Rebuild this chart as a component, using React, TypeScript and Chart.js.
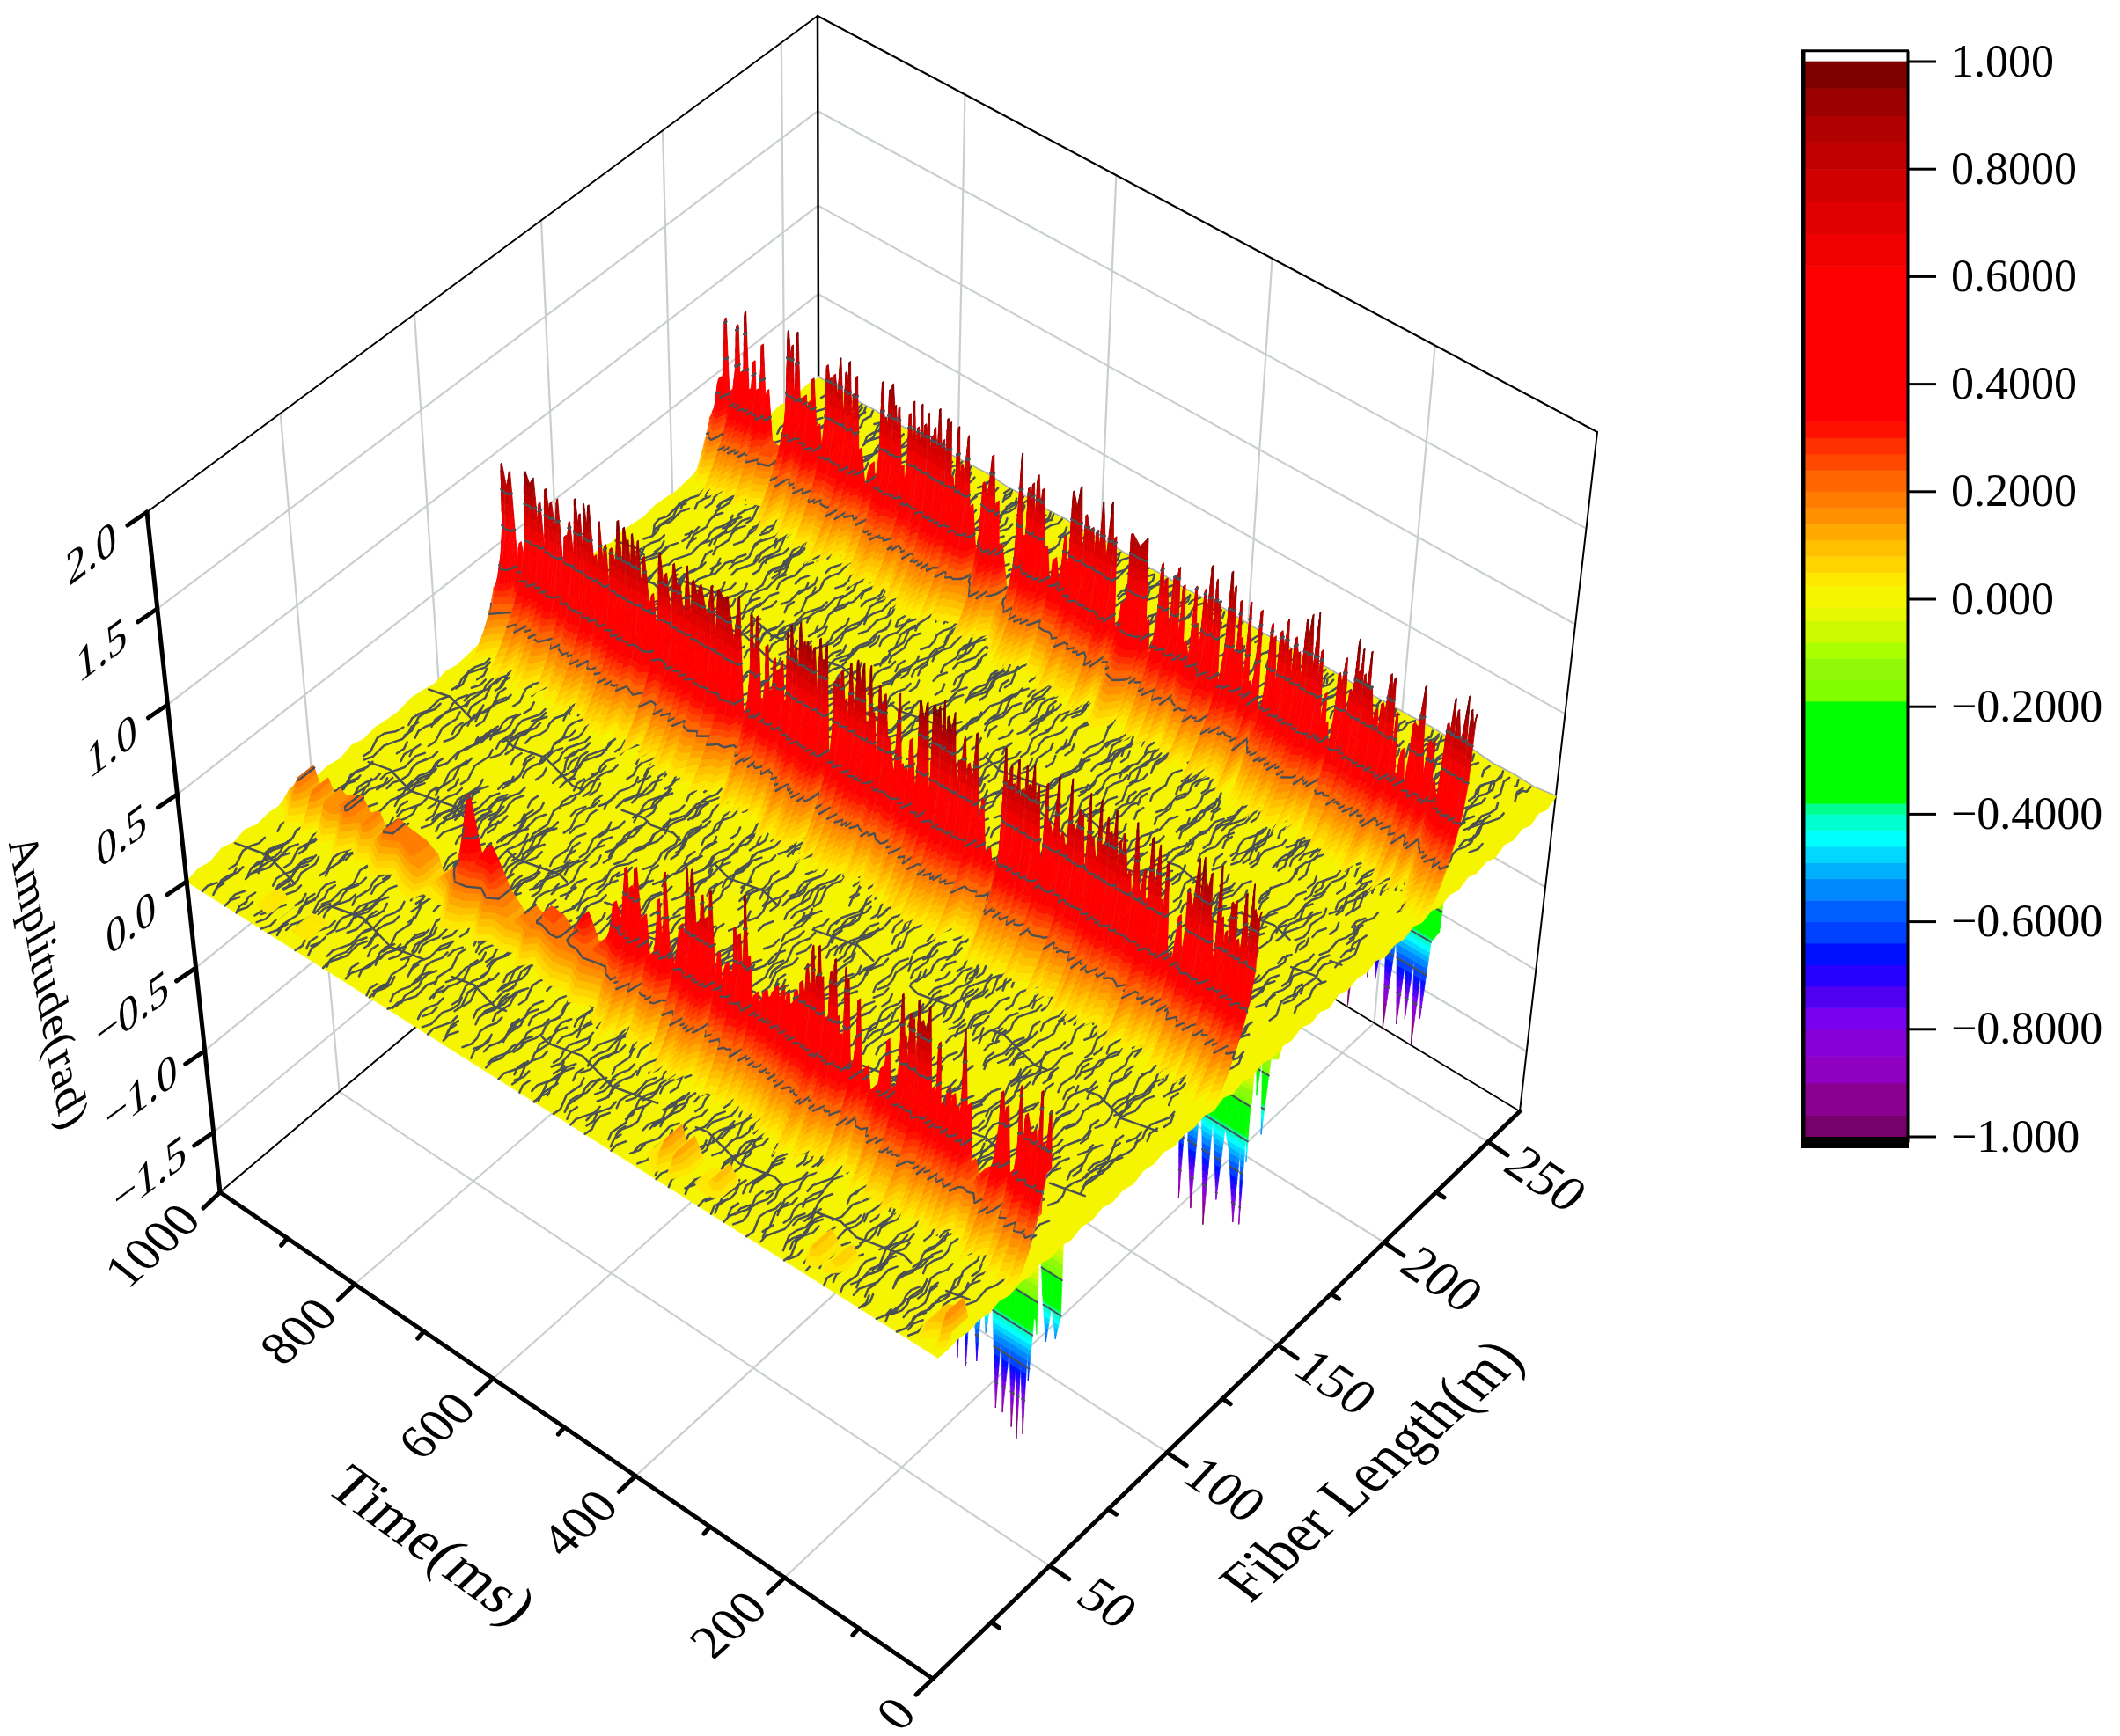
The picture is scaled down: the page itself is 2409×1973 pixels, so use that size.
import React, { useEffect, useRef } from "react";
import { Chart, DatasetController, registerables } from "chart.js";

// ---------- axes ----------
const timeTicks = [1000, 800, 600, 400, 200, 0];
const timeMinor = [900, 700, 500, 300, 100];
const fiberTicks = [50, 100, 150, 200, 250];
const fiberMinor = [25, 75, 125, 175, 225];
const ampTicks = [2.0, 1.5, 1.0, 0.5, 0.0, -0.5, -1.0, -1.5];
const ampLabels = ["2.0", "1.5", "1.0", "0.5", "0.0", "\u22120.5", "\u22121.0", "\u22121.5"];
const barTicks = [1, 0.8, 0.6, 0.4, 0.2, 0, -0.2, -0.4, -0.6, -0.8, -1];
const barLabels = ["1.000", "0.8000", "0.6000", "0.4000", "0.2000", "0.000", "\u22120.2000", "\u22120.4000", "\u22120.6000", "\u22120.8000", "\u22121.000"];

// ---------- colour map ----------
const bandLo = [-3, -0.96, -0.9, -0.85, -0.8, -0.76, -0.72, -0.68, -0.64, -0.6, -0.56, -0.52, -0.49, -0.46, -0.43, -0.4, -0.38, -0.19, -0.15, -0.11, -0.08, -0.04, -0.015, 0.025, 0.05, 0.08, 0.11, 0.14, 0.17, 0.2, 0.24, 0.27, 0.3, 0.33, 0.62, 0.68, 0.74, 0.8, 0.85, 0.9, 0.95];
const bandColor = ["#78006c", "#8a0090", "#9000c0", "#8800d8", "#7a00f0", "#5000f0", "#2800ff", "#0010ff", "#0040ff", "#0060ff", "#0088ff", "#00b0ff", "#00d8ff", "#00ffff", "#00ffd0", "#00ff90", "#00ff00", "#80ff00", "#90f808", "#aaff00", "#ccf800", "#e8f800", "#f5f500", "#ffe800", "#ffd400", "#ffc000", "#ffa800", "#ff9000", "#ff7c00", "#ff6600", "#ff4800", "#ff3000", "#ff1000", "#ff0000", "#f00000", "#e00000", "#d00000", "#c00000", "#b00000", "#9c0000", "#800000"];
const PLATEAU = "#f5f500";
const contourLevels = [-0.8, -0.6, -0.4, -0.2, 0.2, 0.4, 0.6, 0.8];

// ---------- ridges: [time ms, amplitude rad] ----------
const ridgeBackFiber = 222;
const ridgeMidFiber = 129;
const ridgeFrontFiber = 45;
const ridgeLowFiber = 12;
const ridgeBack = [[1000,.30],[998,.47],[990,.82],[981,.44],[973,.82],[968,.57],[962,.92],[956,.50],[950,.67],[946,.52],[938,.79],[931,.55],[927,.27],[916,.25],[910,.05],[902,.95],[896,.88],[893,.64],[889,.97],[884,.61],[878,.64],[872,.62],[867,.76],[859,.52],[847,.88],[842,.82],[837,.85],[829,.96],[821,.90],[816,.97],[810,.80],[806,.91],[800,.52],[790,.35],[783,.48],[771,.96],[766,.77],[761,.94],[757,.98],[753,.87],[748,.87],[742,.56],[739,.50],[733,.87],[729,.69],[728,.95],[722,.82],[717,.96],[712,.86],[708,.93],[702,.82],[699,.87],[693,.99],[687,.83],[682,.96],[678,.95],[675,.65],[667,.95],[662,.75],[654,.93],[647,.56],[632,.72],[620,.90],[612,.66],[606,.43],[597,.15],[591,.18],[582,1.0],[577,.55],[572,.83],[566,.87],[560,.93],[553,.87],[546,.56],[534,.53],[522,.68],[514,.95],[504,1.0],[496,.86],[487,.81],[481,.81],[475,.98],[463,1.01],[457,.83],[451,.35],[442,.51],[436,.90],[416,.92],[414,.47],[410,.48],[406,.31],[395,.83],[389,.76],[379,.80],[374,.86],[371,.53],[367,.78],[362,.48],[352,.81],[349,.61],[341,.82],[334,.97],[332,.77],[327,.91],[322,.80],[318,.37],[309,1.0],[307,.83],[304,.93],[301,.57],[296,.87],[293,.67],[284,.89],[280,.46],[277,.20],[270,.88],[267,.33],[256,.84],[252,.78],[244,.83],[242,.78],[237,.91],[232,.76],[226,.84],[221,.77],[214,.97],[208,1.01],[200,1.04],[198,.76],[193,.85],[188,.43],[185,.63],[181,.48],[170,.78],[163,.88],[155,.72],[149,1.02],[146,.85],[143,.98],[139,.85],[133,.99],[130,.80],[121,.70],[115,.75],[107,.93],[105,.83],[102,.92],[96,.74],[91,.42],[85,.57],[74,.74],[64,.97],[62,.66],[53,.69],[48,.70],[44,.49],[33,.84],[27,.99],[22,.94],[11,1.04],[6,.98],[0,.97]];
const ridgeMid = [[1000,.29],[996,.94],[985,.92],[974,.55],[967,.25],[963,.97],[952,.96],[944,.84],[935,.94],[928,.88],[919,.92],[909,.74],[903,.83],[894,.98],[888,.91],[882,.98],[875,.99],[867,.73],[861,.93],[853,.82],[845,.82],[834,1.0],[826,.98],[821,.92],[815,.97],[807,.95],[799,.88],[788,.70],[777,.95],[769,.86],[758,.94],[751,.84],[740,.97],[732,.91],[722,.91],[707,.94],[698,.94],[686,.93],[670,.97],[664,.35],[658,.18],[653,.91],[650,.73],[645,.92],[641,.47],[635,.47],[632,.79],[628,.55],[622,.74],[617,.69],[612,.75],[608,.54],[604,.93],[599,.98],[593,.87],[587,1.02],[582,.93],[578,.94],[574,.93],[569,.93],[561,1.0],[557,.89],[553,.98],[549,.36],[546,.30],[542,.81],[538,.84],[532,.89],[527,.75],[524,.29],[521,.96],[512,1.0],[504,1.0],[500,.69],[495,1.01],[491,.76],[483,.93],[479,.84],[476,.90],[471,.67],[457,.95],[453,.57],[448,.56],[441,.74],[430,.98],[421,.99],[419,.36],[412,1.0],[405,1.01],[399,1.05],[394,.98],[386,1.02],[383,.75],[378,.78],[373,.92],[367,.79],[358,.98],[349,.64],[345,.26],[339,.39],[336,.25],[333,.34],[329,.17],[322,.99],[317,.83],[314,.91],[311,.82],[305,.97],[300,.82],[295,.96],[291,.87],[286,.99],[280,.89],[278,.54],[269,.93],[266,.73],[255,1.01],[249,.71],[239,1.03],[236,.79],[228,.89],[225,.87],[216,1.01],[211,.78],[202,1.01],[198,.78],[193,.94],[189,.87],[183,1.0],[177,.85],[172,.90],[164,.72],[157,1.0],[145,.77],[142,.62],[137,.97],[128,.95],[122,.67],[117,.88],[109,.41],[99,.64],[93,.48],[90,.81],[79,1.0],[73,1.02],[71,.91],[63,.96],[60,.71],[51,1.03],[47,.76],[41,.70],[36,.87],[31,.89],[27,.69],[19,.96],[11,1.03],[8,.90],[0,.91]];
const ridgeFront = [[1000,.02],[992,.10],[976,.21],[965,.07],[956,.19],[945,.09],[939,.17],[930,.15],[921,.18],[908,.21],[897,.14],[884,.18],[875,.10],[856,.21],[840,.19],[818,.18],[802,.14],[796,.05],[771,.17],[752,.61],[739,.29],[726,.40],[713,.30],[702,.20],[683,.12],[668,.20],[655,.17],[645,.25],[628,.24],[613,.18],[594,.35],[581,.21],[563,.30],[556,.51],[540,.74],[534,.65],[527,.77],[516,.54],[506,.36],[498,.67],[493,.50],[489,.84],[482,.40],[468,.61],[460,.94],[453,.95],[445,.68],[440,.84],[435,.73],[429,.89],[419,.58],[413,.40],[408,.55],[403,.52],[398,.77],[392,.75],[385,.98],[380,.66],[370,.49],[365,.46],[359,.53],[354,.51],[350,.55],[345,.60],[342,.54],[337,.61],[334,.54],[331,.60],[326,.55],[321,.63],[319,.59],[314,.70],[307,.81],[303,.72],[300,.93],[295,.78],[292,.95],[288,.79],[284,.58],[277,.85],[272,.93],[268,.63],[265,.54],[259,.92],[256,.86],[252,.41],[246,.46],[242,.79],[236,.33],[232,.45],[227,.23],[221,.37],[217,.30],[211,.51],[205,.67],[198,.43],[188,.96],[184,.74],[178,.88],[174,.86],[168,.98],[163,.88],[154,.98],[148,.56],[141,.82],[137,.50],[128,.61],[122,.59],[117,.53],[110,.97],[102,.59],[99,.23],[95,.30],[88,.20],[82,.28],[73,.32],[62,.76],[55,.70],[45,.38],[39,.85],[33,.56],[31,.72],[20,.66],[13,.89],[9,.62],[2,.81],[0,.5]];
const ridgeLow = [[930,0],[906,.05],[890,0],[850,.04],[830,0],[400,0],[375,.04],[364,.15],[356,.04],[348,.13],[335,.02],[315,.03],[303,.1],[290,.01],[190,0],[174,.09],[160,.02],[146,.08],[135,0],[40,0],[26,.08],[15,.1],[6,.17],[0,.08]];
// small fibre drift of the ridge skirt from sample to sample
const skirtWiggle = [.1,-.15,.22,-.05,.18,-.25,.08,.2,-.12,.25,-.2,.05,-.08,.15,-.22,.12,.24,-.1,-.18,.06,.2,-.24,.14,-.04,.1,-.16,.22,-.2,.02,.18,-.12,.26,-.06,-.22,.16,.04,-.14];
// depth of the narrow gaps between neighbouring needles on the ridges
const notchDepth = [.12,.3,.05,.22,.4,.08,.18,.34,.02,.26,.1,.38,.15,.06,.28,.2,.44,.09,.32,.03,.24,.16,.36,.11,.42];

// ---------- negative excursions ----------
const dipBack = [[136,-.1],[128,-1.04],[122,-.5],[115,-.8],[111,-.4],[106,-.81],[101,-.4],[96,-.8],[88,-.4],[81,-1.06],[74,-.5],[71,-.6],[64,-.98],[60,-.6],[54,-.92],[49,-.55],[43,-1.05],[39,-.6],[35,-.87],[30,-.4],[21,-.32],[18,0]];
const dipMid = [[95,-.1],[86,-.96],[82,-.3],[78,-.6],[70,-.98],[65,-.3],[61,-.5],[53,-1.03],[48,-.4],[38,-.84],[32,-.4],[26,-.5],[15,-.91],[11,-.45],[7,-.9],[5,-.3],[3,-.52],[2,-.2],[1,-.18],[0,0]];
const dipMidExtra = [[33,0],[28,-.35],[24,-.1],[19,-.55],[13,-.1],[4,-.08],[0,0]];
const dipFront = [[109,-.1],[101,-.8],[96,-.2],[90,-.82],[84,-.2],[76,-.75],[70,-.3],[65,-.55],[58,-.3],[50,-.95],[45,-.5],[41,-.95],[34,-.55],[29,-1.0],[25,-.6],[22,-1.05],[19,-.6],[14,-1.0],[11,-.5],[9,-.67],[4,-.3],[2,-.3],[0,-.38]];
const dipFrontExtra = [[30,0],[24,-.35],[18,-.6],[12,-.38],[6,-.55],[0,-.4]];

// ---------- plateau rim noise ----------
const rimBack = [0,.02,.005,.03,.01,.03,.005,.02,.01,.025,.035,.01,.02,.005,.03,.01,.025,.015,.01,.03,.02,.005,.025,.01,.02,.03,.01,.025,.005,.02,.01,.03,.02,.025,.01,.02,.03,.01,.025,.02,.01,.025,.02,.01,.02,.03,.005,.02,.03,.01,.025,.015,.02,.03,.01,.02,.025,.01];
const rimRight = [.02,.012,.006,.012,.006,.012,.012,.006,.012,.018,.006,.012,.006,.012,.006,.018,.012,.006,.012,.006,.012,.018,.012,.006,.012,.006,.018,.012,.006,.012,.012,.018,.012,.024,.012,.018,.012,.03];
const rimFront = [.02,-.01,.015,-.015,.01,-.01,.012,-.018,.008,-.01,.015,-.012,.008,-.015,.012,-.01,.015,-.01,.005,-.018,.012,-.01,.008,-.012,.012,-.02,.008,-.012,.015,-.01,.005,-.012,.012,-.01,.008,-.012,.015,-.01,.012,-.005,.008,-.01,.012,-.005,.01,-.014,.006,-.01,.012,-.008,.01,-.012,.006,-.01,.012,-.006,.008,-.01,.01,-.008,.008,-.006,.005,-.004,0];

// ---------- zero-level contour traces across the fibre (one row per time slice, 5 m step; digits = time wiggle) ----------
const contourRowStart = 985;
const contourRowStep = 16;
const contourRows = [
"..3454..236..5674...3454.26...4565..32345...5654.2..34",
"45..4323..5676...2343..6545..34..23454...6765..3234..5",
"..6543...3456.45...2345..4321.56..6543..2342...5676.34",
"32..5676.2..4343...56..43234...7654..45...3456.23...54",
"..4565...6543..3212..3454..5676...23..4565.32..6545...",
"543..2345..45...6765.34...2343..5456...3234..6765...23",
"..2343...7656.34..45654...3212.45..6543...4565..32..45",
"67...3454..3212...5676.43...2345..6..43234...56..7654.",
"..5654.34...4565..23..6765..345...3212.45..6543...2343",
"23..4321...6545.56...3234.45...6765..3454...32..4565..",
"...6765.23..3454...5654..2343...45..6765..3212..54...6",
"4543...3212..56...4345..6765..3234..54...6543.2...3456",
"..23..5676...4321.65..34...5454.23...7656..34..4321...",
"654..3..4565..23454...6543...23..5676...3234.56..454..",
"...3234.65...5676.23..4565...4343..56..2343...7654..32",
"45..6765..3212...45..3454.67...3212.56...5454..23..656",
"..3454...4565.23...6543...2345..6..4321...5676.34...23",
"6543..23...5676.43..2343...56..4565...3212.45..7654...",
"..45..6543..32..5454...3676..23...5654.34...2343..56..",
"3212...4565.67...3234..45..6765...23..4543...6565.3...",
"..5676..2343...54..6765.32...4565..3..5676...4321..456",
"43...3454.56..2123...5654..34...6543.23...4565..32...6",
"..6765..34...4565.23...3212..5676...45..3454...5654.2.",
"234...5..4343...6765.34..5454...2323...6765.45...3212.",
"..4565..3212..56...2343.76...4545..32...5654..3454...2",
"65...3454...6543.23..5676...34..4321.56...2343..6765..",
"..2343.45...3212..6765...5454.23...6543...45..3212.456",
"5676...34..4565...23..4343.56...3234..6765...5454...32",
"..34..6543...2345.67...3212..4565...23..5676.34...4321",
"4565...2343.56...5454.3...6765..23...4345.6...3212..56",
"...7654.23..3454...6565..34...2343.56...4565..32..6543",
"23..4565...6765.32..3454...5676..43...2123..5654.34...",
"..5454.3...2343..6765...34..6543.23...5676...3454..456",
"6..3212.56...4565..23..5676...3234.45...6543..23...565",
"..3454...6765.34...5654..2123...6765..34..4565...3212.",
"45...5676..3212...45..4343.65...2343..56...7654.23..34",
"..6543.23...3454..5676...4565.3...6543..2123...5454...",
"3234...56..6765...3212.45...5676..34..4321...6565.23..",
"..45..3454...2343.67...4565..3212...56..6765...3454..3",
"6765..23...5454..32...6543.45..23...3454.67...2123..56",
"...3212.45...6765..34..5454...2343.65...4565..32...676",
"454..6..2343...5676.32...3454..56...6765..34..4321...5",
"..5676...3454.23...6543..45...3212.56...2343...6765.34",
"23...4565..56...3234.67...5454..32...4565..3212...5454",
"..6765.34...2123..5676...34..6543.23...5454...45..3234",
"5454...3212.65...4343..56...3676.23..4565...2343.67...",
"..23..6543...5676.34...3212..4565...56..3234.45...6765",
"4321...56..3454...6765.23...5454..34...6543.2...4565..",
"..6565.34...2343.45...5676..32...3454.67...2123..5454.",
"32...4565...6543..23..3454...5676.34...2343...56..6765",
"..3212.56...4565.34...6765..23...4343.56...3212.45....",
"6543..23...5454...3676.45...2123..6765...34..4565..32.",
"..45..5676...3234.56...3454..6543...23..4321.67...3454",
"2343...34..6765...4565.23...5454..32...6765.34...2123.",
"..5454.67...2343..56...3212.45...4565..3..6543...5676.",
"34...3212.45...5676..23..6543...34..3454.56...4343..65",
"..6765...3454.23...2123..5676.45...3234..67...5454..23",
"4565..32...6543.56...3454...2343.65...5676..34...3212.",
"..2123...5676.34..6765...4545.23...3212..56...6543.345",
"54...4343.67...3212..45..5676...2343.56...3454..65....",
];
// long contour traces running along the time axis (fibre position, then digits = fibre wiggle per 12 ms)
const longFibers = [20, 66, 96, 168, 176];
const longRows = [
"45676543...34565432345..5676545...4345654323456...6765434565...3454345676...456",
"..4565434567654...3234565...67654345...4345676543...5434567654...3456543...4567",
"567654...4345654323...4565676...54345654...3456765...43456...6765434...56543456",
"...34565434...567654345...6543456...7654345...5676543...4345654...345676...4565",
"4565...34567...65434...56765...4345676...5434567...654345...67654...345654...56",
];

// ---------- projection frame ----------
const timeStops = [0, 200, 400, 600, 800, 1000];
const timeFrac = [1, 0.792, 0.583, 0.383, 0.189, 0];
const fiberStops = [0, 50, 100, 150, 200, 250, 267];
const fiberFrac = [0, 0.199, 0.399, 0.588, 0.769, 0.946, 1];
const ampStops = [-1.87, -1.5, -1, -0.5, 0, 0.5, 1, 1.5, 2];
const ampFrac = [0, 0.088, 0.208, 0.33, 0.457, 0.585, 0.717, 0.858, 1];
const floorCorners = { a: [250, 1355], b: [1060, 1908], c: [1727, 1263], d: [931, 780] };
const roofCorners = { a: [167, 582], b: [1073, 1110], c: [1815, 491], d: [929, 18] };
const T_MAX = 1000, F_MAX = 267, Z_MIN = -1.87, Z_MAX = 2;

// skirt profile of each ridge: distance in front of the wall (m) → envelope height
const skirtD = [0, 0.4, 0.8, 1.2, 2.5, 4.5, 7, 10, 13, 17];
const skirtZ = [1.3, 1.0, 0.8, 0.6, 0.45, 0.33, 0.22, 0.12, 0.04, 0];
const rowD = [0, 0.2, 0.4, 0.6, 0.8, 1, 1.2, 1.8, 2.5, 3.5, 4.5, 5.7, 7, 8.5, 10, 13, 17];

const interp = (v: number, xs: number[], ys: number[]) => {
  if (v <= xs[0]) return ys[0];
  for (let i = 1; i < xs.length; i++) {
    if (v <= xs[i]) return ys[i - 1] + ((v - xs[i - 1]) / (xs[i] - xs[i - 1])) * (ys[i] - ys[i - 1]);
  }
  return ys[ys.length - 1];
};
const project = (t: number, f: number, z: number) => {
  const u = interp(t, timeStops, timeFrac), v = interp(f, fiberStops, fiberFrac), s = interp(z, ampStops, ampFrac);
  const bil = (c: any, k: number) => (1 - u) * (1 - v) * c.a[k] + u * (1 - v) * c.b[k] + u * v * c.c[k] + (1 - u) * v * c.d[k];
  return {
    x: (1 - s) * bil(floorCorners, 0) + s * bil(roofCorners, 0),
    y: (1 - s) * bil(floorCorners, 1) + s * bil(roofCorners, 1),
  };
};

type V = [number, number, number];
type Mesh = { pts: { x: number; y: number }[]; polys: { n: number; fill?: string; stroke?: string; lw?: number }[] };
const newMesh = (): Mesh => ({ pts: [], polys: [] });
const addPoly = (m: Mesh, vs: V[], style: any) => {
  for (const v of vs) m.pts.push(project(v[0], v[1], v[2]));
  m.polys.push({ n: vs.length, ...style });
};
const clipZ = (poly: V[], lim: number, above: boolean) => {
  const out: V[] = [];
  for (let i = 0; i < poly.length; i++) {
    const p = poly[i], q = poly[(i + 1) % poly.length];
    const pin = above ? p[2] >= lim : p[2] <= lim;
    const qin = above ? q[2] >= lim : q[2] <= lim;
    if (pin) out.push(p);
    if (pin !== qin) {
      const r = (lim - p[2]) / (q[2] - p[2]);
      out.push([p[0] + r * (q[0] - p[0]), p[1] + r * (q[1] - p[1]), lim]);
    }
  }
  return out;
};
const addBands = (m: Mesh, q: V[], skipPlateau: boolean) => {
  let lo = Infinity, hi = -Infinity;
  for (const v of q) { lo = Math.min(lo, v[2]); hi = Math.max(hi, v[2]); }
  for (let i = 0; i < bandLo.length; i++) {
    if (skipPlateau && bandColor[i] === PLATEAU) continue;
    const a = bandLo[i], b = i + 1 < bandLo.length ? bandLo[i + 1] : 9;
    if (b <= lo || a >= hi) continue;
    let p = clipZ(q, a, true);
    if (p.length > 2) p = clipZ(p, b, false);
    if (p.length > 2) addPoly(m, p, { fill: bandColor[i] });
  }
};
const contourSegs = (q: V[]) => {
  const segs: V[][] = [];
  for (const L of contourLevels) {
    const hits: V[] = [];
    for (let i = 0; i < q.length; i++) {
      const p = q[i], r = q[(i + 1) % q.length];
      if ((p[2] < L) !== (r[2] < L)) {
        const k = (L - p[2]) / (r[2] - p[2]);
        hits.push([p[0] + k * (r[0] - p[0]), p[1] + k * (r[1] - p[1]), L]);
      }
    }
    if (hits.length >= 2) segs.push([hits[0], hits[1]]);
  }
  return segs;
};
const CONTOUR = "#4a5054";

// a narrow gap is read between each pair of needles that stand above the skirt
const withGaps = (samples: number[][]) => {
  const out: number[][] = [];
  let n = 0;
  for (let i = 0; i < samples.length; i++) {
    out.push(samples[i]);
    const b = samples[i + 1];
    if (b && samples[i][0] - b[0] >= 3 && samples[i][1] > 0.3 && b[1] > 0.3) {
      const depth = notchDepth[n++ % notchDepth.length];
      out.push([(samples[i][0] + b[0]) / 2, Math.max(0.12, Math.min(samples[i][1], b[1]) - depth)]);
    }
  }
  return out;
};

const buildRidge = (raw: number[][], f0: number) => {
  const m = newMesh();
  const samples = withGaps(raw);
  const vert = (s: number[], i: number, k: number): V => {
    const w = skirtWiggle[i % skirtWiggle.length];
    const d = rowD[k];
    const spread = (0.6 + 0.55 * s[1]) * (1 + w);
    return [s[0], f0 - d * spread, Math.min(s[1], interp(d, skirtD, skirtZ))];
  };
  for (let i = 0; i + 1 < samples.length; i++) {
    const a = samples[i], b = samples[i + 1];
    const segs: V[][] = [];
    for (let k = 0; k + 1 < rowD.length; k++) {
      const q: V[] = [vert(a, i, k), vert(b, i + 1, k), vert(b, i + 1, k + 1), vert(a, i, k + 1)];
      addBands(m, q, true);
      segs.push(...contourSegs(q));
    }
    for (const s of segs) addPoly(m, s, { stroke: CONTOUR, lw: 2.4 });
    if (i % 5 === 1) {
      const rib: V[] = [];
      for (let k = 0; k < rowD.length - 3; k++) rib.push(vert(b, i + 1, k));
      addPoly(m, rib, { stroke: "rgba(150,150,150,0.55)", lw: 1 });
    }
  }
  return m;
};
const buildDip = (samples: number[][], f: number) => {
  const m = newMesh();
  for (let i = 0; i + 1 < samples.length; i++) {
    const a = samples[i], b = samples[i + 1];
    const q: V[] = [[a[0], f, 0], [b[0], f, 0], [b[0], f, b[1]], [a[0], f, a[1]]];
    addBands(m, q, false);
    for (const s of contourSegs(q)) addPoly(m, s, { stroke: CONTOUR, lw: 2 });
  }
  return m;
};
const traceRow = (m: Mesh, row: string, t0: number, fShift: number) => {
  let run: V[] = [];
  let prev = 0;
  for (let c = 0; c <= row.length; c++) {
    const ch = row[c];
    if (ch === undefined || ch === ".") {
      if (run.length > 1) addPoly(m, run, { stroke: CONTOUR, lw: 2.5 });
      run = [];
    } else {
      const dg = Number(ch);
      const t = Math.max(0, Math.min(T_MAX, t0 + (dg - 5) * 3));
      const f = Math.min(F_MAX, c * 5 + fShift);
      if (run.length) run.push([Math.max(0, (prev + t) / 2 + (dg % 2 ? 2.6 : -2.6)), f - 2.5, 0]);
      run.push([t, f, 0]);
      prev = t;
    }
  }
};
const buildPlateau = () => {
  const m = newMesh();
  const rim: V[] = [];
  rimBack.forEach((z, i) => rim.push([T_MAX, (i / (rimBack.length - 1)) * F_MAX, z]));
  rimRight.forEach((z, i) => rim.push([T_MAX * (1 - i / (rimRight.length - 1)), F_MAX, z]));
  rimFront.forEach((z, i) => rim.push([0, F_MAX * (1 - i / (rimFront.length - 1)), z]));
  addPoly(m, rim, { fill: PLATEAU });
  const edge: V[] = rimRight.map((z, i) => [T_MAX * (1 - i / (rimRight.length - 1)), F_MAX, z] as V);
  addPoly(m, edge, { stroke: "#a9b0b4", lw: 1.6 });
  contourRows.forEach((row, r) => {
    const t0 = contourRowStart - r * contourRowStep;
    traceRow(m, row, t0, 1);
    traceRow(m, row.split("").reverse().join(""), t0 - 4, 0);
    traceRow(m, contourRows[(r + 23) % contourRows.length], t0 - 8, 2.5);
    traceRow(m, contourRows[(r + 41) % contourRows.length], t0 - 12, 4);
  });
  longRows.forEach((row, r) => {
    let run: V[] = [];
    for (let c = 0; c <= row.length; c++) {
      const ch = row[c];
      if (ch === undefined || ch === ".") {
        if (run.length > 1) addPoly(m, run, { stroke: CONTOUR, lw: 2.5 });
        run = [];
      } else {
        run.push([Math.max(0, 1000 - c * 12.5), longFibers[r] + (Number(ch) - 5) * 0.8, 0]);
      }
    }
  });
  return m;
};

class MeshController extends DatasetController {
  static id = "mesh";
  static defaults = { dataElementType: "point", datasetElementType: false };
  update() {}
  draw() {
    const meta: any = this._cachedMeta;
    const xs = meta.xScale, ys = meta.yScale;
    const ds: any = this.getDataset();
    const ctx = this.chart.ctx;
    ctx.save();
    ctx.lineJoin = "round";
    ctx.lineCap = "round";
    let idx = 0;
    for (const p of ds.polys) {
      ctx.beginPath();
      for (let i = 0; i < p.n; i++) {
        const pt = ds.data[idx + i];
        const x = xs.getPixelForValue(pt.x), y = ys.getPixelForValue(pt.y);
        if (i === 0) ctx.moveTo(x, y); else ctx.lineTo(x, y);
      }
      idx += p.n;
      if (p.fill) {
        ctx.closePath();
        ctx.fillStyle = p.fill;
        ctx.fill();
        ctx.strokeStyle = p.fill;
        ctx.lineWidth = 0.7;
        ctx.stroke();
      } else {
        ctx.strokeStyle = p.stroke;
        ctx.lineWidth = p.lw;
        ctx.stroke();
      }
    }
    ctx.restore();
  }
}
Chart.register(...registerables, MeshController as any);

const meshSet = (m: Mesh, extra: any = {}) => ({ type: "mesh", data: m.pts, polys: m.polys, parsing: false, ...extra });
const line = (pts: { x: number; y: number }[], color: string, width: number, extra: any = {}) => ({
  type: "scatter", data: pts, showLine: true, borderColor: color, borderWidth: width, pointRadius: 0, borderCapStyle: "round", ...extra,
});
const path3 = (a: V, b: V) => [project(a[0], a[1], a[2]), project(b[0], b[1], b[2])];
const GRID = "#c9cfcf";

const offset = (p: { x: number; y: number }, dx: number, dy: number) => ({ x: p.x + dx, y: p.y + dy });

const buildDatasets = () => {
  const out: any[] = [];
  // walls and floor
  for (const z of ampTicks.slice(1)) {
    out.push(line(path3([T_MAX, 0, z], [T_MAX, F_MAX, z]), GRID, 2.2));
    out.push(line(path3([T_MAX, F_MAX, z], [0, F_MAX, z]), GRID, 2.2));
  }
  for (const t of timeTicks.slice(1, 5)) {
    out.push(line(path3([t, F_MAX, Z_MIN], [t, F_MAX, Z_MAX]), GRID, 2.2));
    out.push(line(path3([t, 0, Z_MIN], [t, F_MAX, Z_MIN]), GRID, 2.2));
  }
  for (const f of fiberTicks) {
    out.push(line(path3([T_MAX, f, Z_MIN], [T_MAX, f, Z_MAX]), GRID, 2.2));
    out.push(line(path3([T_MAX, f, Z_MIN], [0, f, Z_MIN]), GRID, 2.2));
  }
  // thin box edges
  out.push(line(path3([T_MAX, 0, Z_MAX], [T_MAX, F_MAX, Z_MAX]), "#000", 2));
  out.push(line(path3([T_MAX, F_MAX, Z_MAX], [0, F_MAX, Z_MAX]), "#000", 2));
  out.push(line(path3([0, F_MAX, Z_MAX], [0, F_MAX, Z_MIN]), "#000", 2));
  out.push(line(path3([T_MAX, F_MAX, Z_MAX], [T_MAX, F_MAX, Z_MIN]), "#000", 2.5));
  out.push(line(path3([T_MAX, 0, Z_MIN], [T_MAX, F_MAX, Z_MIN]), "#000", 2));
  out.push(line(path3([T_MAX, F_MAX, Z_MIN], [0, F_MAX, Z_MIN]), "#000", 2));
  // surface, back to front
  out.push(meshSet(buildDip(dipBack, ridgeBackFiber)));
  out.push(meshSet(buildDip(dipMidExtra, ridgeMidFiber + 13)));
  out.push(meshSet(buildDip(dipMid, ridgeMidFiber + 1)));
  out.push(meshSet(buildDip(dipFrontExtra, ridgeFrontFiber + 6)));
  out.push(meshSet(buildDip(dipFront, ridgeFrontFiber - 4)));
  out.push(meshSet(buildPlateau()));
  out.push(meshSet(buildRidge(ridgeBack, ridgeBackFiber)));
  out.push(meshSet(buildRidge(ridgeMid, ridgeMidFiber)));
  out.push(meshSet(buildRidge(ridgeFront, ridgeFrontFiber)));
  out.push(meshSet(buildRidge(ridgeLow, ridgeLowFiber)));
  // main axes
  out.push(line(path3([T_MAX, 0, Z_MAX], [T_MAX, 0, Z_MIN]), "#000", 5));
  out.push(line(path3([T_MAX, 0, Z_MIN], [0, 0, Z_MIN]), "#000", 5));
  out.push(line(path3([0, 0, Z_MIN], [0, F_MAX, Z_MIN]), "#000", 5));
  for (const z of ampTicks) {
    const p = project(T_MAX, 0, z);
    out.push(line([p, offset(p, -22, 15)], "#000", 5));
  }
  for (const t of timeTicks) {
    const p = project(t, 0, Z_MIN);
    out.push(line([p, offset(p, -19, 18)], "#000", 5));
  }
  for (const t of timeMinor) {
    const p = project(t, 0, Z_MIN);
    out.push(line([p, offset(p, -7, 8)], "#000", 5));
  }
  for (const f of fiberTicks) {
    const p = project(0, f, Z_MIN);
    out.push(line([p, offset(p, 22, 15)], "#000", 5));
  }
  for (const f of fiberMinor) {
    const p = project(0, f, Z_MIN);
    out.push(line([p, offset(p, 9, 6)], "#000", 5));
  }
  // colour bar
  const bar = newMesh();
  const xL = 2050, xR = 2167;
  bandLo.forEach((lo, i) => {
    const a = Math.max(lo, -1), b = Math.min(i + 1 < bandLo.length ? bandLo[i + 1] : 1, 1);
    if (b <= a) return;
    bar.pts.push({ x: xL, y: a }, { x: xR, y: a }, { x: xR, y: b }, { x: xL, y: b });
    bar.polys.push({ n: 4, fill: bandColor[i] });
  });
  out.push(meshSet(bar, { yAxisID: "cb" }));
  const frameTop = 1.02, frameBot = -1.0105;
  out.push(line([{ x: 2049, y: frameTop }, { x: 2049, y: frameBot }], "#000", 5, { yAxisID: "cb", borderCapStyle: "butt" }));
  out.push(line([{ x: 2168, y: frameTop }, { x: 2168, y: frameBot }], "#000", 3, { yAxisID: "cb", borderCapStyle: "butt" }));
  out.push(line([{ x: 2047, y: frameTop }, { x: 2169, y: frameTop }], "#000", 3, { yAxisID: "cb", borderCapStyle: "butt" }));
  out.push(line([{ x: 2047, y: frameBot }, { x: 2169, y: frameBot }], "#000", 13, { yAxisID: "cb", borderCapStyle: "butt" }));
  for (const v of barTicks) {
    out.push(line([{ x: 2169, y: v }, { x: 2200, y: v }], "#000", 3, { yAxisID: "cb", borderCapStyle: "butt" }));
  }
  return out.reverse();
};

const SERIF = '"Liberation Serif", "Times New Roman", serif';
const drawLabel = (ctx: any, text: string, x: number, y: number, size: number, b: number[], d: number[]) => {
  ctx.save();
  ctx.transform(b[0], b[1], d[0], d[1], x, y);
  ctx.font = `${size}px ${SERIF}`;
  ctx.textAlign = "center";
  ctx.textBaseline = "middle";
  ctx.fillStyle = "#000";
  ctx.fillText(text, 0, 0);
  ctx.restore();
};
const labelsPlugin = {
  id: "boxLabels",
  afterDraw(chart: any) {
    const ctx = chart.ctx;
    const zB = [0.8, -0.6], zD = [0.107, 0.95];
    ampTicks.forEach((z, i) => {
      const p = project(T_MAX, 0, z);
      const neg = z < 0;
      drawLabel(ctx, ampLabels[i], p.x + (neg ? -72 : -63), p.y + (neg ? 52 : 50), 56, zB, zD);
    });
    const tB = [0.74, -0.67], tD = [0.78, 0.62];
    timeTicks.forEach((t) => {
      const p = project(t, 0, Z_MIN);
      const off = t === 1000 ? [-74, 63] : t === 0 ? [-39, 42] : [-61, 56];
      drawLabel(ctx, String(t), p.x + off[0], p.y + off[1], 58, tB, tD);
    });
    const fB = [0.83, 0.56], fD = [-0.68, 0.73];
    fiberTicks.forEach((f) => {
      const p = project(0, f, Z_MIN);
      drawLabel(ctx, String(f), p.x + 63, p.y + 45, 60, fB, fD);
    });
    drawLabel(ctx, "Time(ms)", 488, 1759, 68, [0.81, 0.586], [-0.72, 0.69]);
    drawLabel(ctx, "Fiber Length(m)", 1562, 1674, 63, [0.75, -0.66], [0.92, 0.69]);
    drawLabel(ctx, "Amplitude(rad)", 52, 1116, 54, [0.18, 0.98], [-0.85, 0.5]);
    const cb = chart.scales.cb;
    barTicks.forEach((v, i) => {
      ctx.save();
      ctx.font = `52px ${SERIF}`;
      ctx.textAlign = "left";
      ctx.textBaseline = "middle";
      ctx.fillStyle = "#000";
      ctx.fillText(barLabels[i], 2217, cb.getPixelForValue(v) + 3);
      ctx.restore();
    });
  },
};

export default function App() {
  const ref = useRef<HTMLCanvasElement>(null);
  useEffect(() => {
    document.body.style.margin = "0";
    const chart = new Chart(ref.current as any, {
      type: "scatter",
      data: { datasets: buildDatasets() as any },
      options: {
        responsive: false,
        animation: false,
        events: [],
        layout: { padding: 0 },
        plugins: { legend: { display: false }, tooltip: { enabled: false } },
        scales: {
          x: { type: "linear", min: 0, max: 2409, display: false },
          y: { type: "linear", min: 0, max: 1973, reverse: true, display: false },
          cb: { type: "linear", axis: "y", min: -2.1146, max: 1.1146, display: false },
        },
      } as any,
      plugins: [labelsPlugin as any],
    });
    return () => chart.destroy();
  }, []);
  return <canvas ref={ref} width={2409} height={1973} style={{ display: "block", width: 2409, height: 1973 }} />;
}
